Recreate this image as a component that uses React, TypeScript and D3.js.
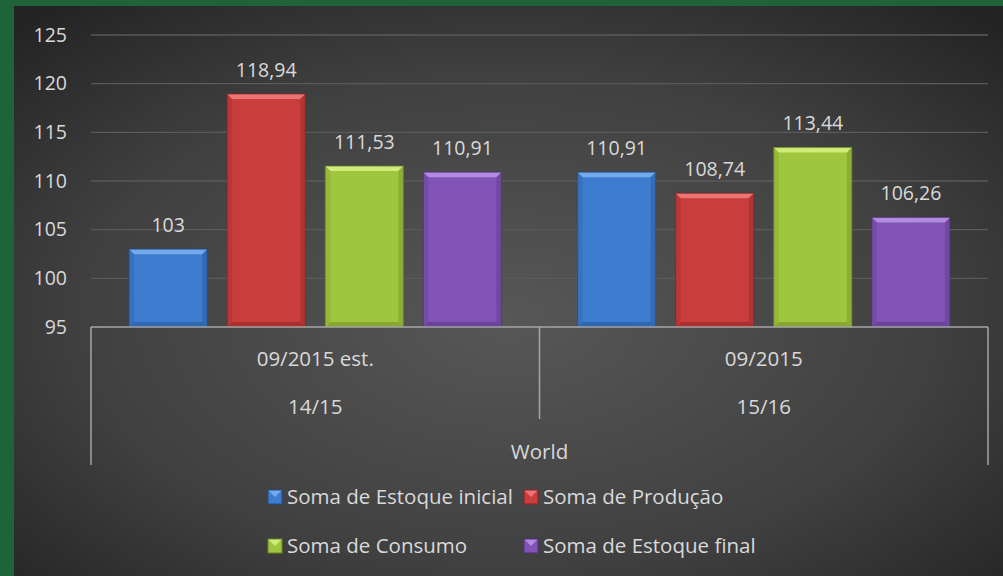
import React from 'react';
import * as d3 from 'd3';

const groups = ['09/2015 est.', '09/2015'];
const years = ['14/15', '15/16'];
const region = 'World';
const series = ['Soma de Estoque inicial', 'Soma de Produção', 'Soma de Consumo', 'Soma de Estoque final'];
const values2014 = [103, 118.94, 111.53, 110.91];
const values2015 = [110.91, 108.74, 113.44, 106.26];
const yTicks = [95, 100, 105, 110, 115, 120, 125];

const colors = [
  { base: '#3d7cce', light: '#74a9ec', dark: '#1f4d8c' },
  { base: '#c93d3d', light: '#ec7474', dark: '#862222' },
  { base: '#a0c53e', light: '#cfeb7a', dark: '#68861f' },
  { base: '#8153b6', light: '#b08be0', dark: '#523177' },
];

const W = 1003;
const H = 576;
const font = '"Open Sans", sans-serif';
const textColor = '#d9d9d9';
const fs = 20.5;

const fmt = (v: number) => String(v).replace('.', ',');

function Bar({ x, y, w, h, c }: { x: number; y: number; w: number; h: number; c: typeof colors[0] }) {
  const b = Math.min(5, h / 2);
  return (
    <g>
      <rect x={x} y={y} width={w} height={h} fill={c.base} />
      {/* soft bevel: light top, darker sides and bottom */}
      <polygon points={`${x},${y} ${x + w},${y} ${x + w - b},${y + b} ${x + b},${y + b}`} fill={c.light} />
      <polygon points={`${x},${y} ${x + b},${y + b} ${x + b},${y + h - b} ${x},${y + h}`} fill={c.dark} opacity={0.2} />
      <polygon points={`${x + w},${y} ${x + w - b},${y + b} ${x + w - b},${y + h - b} ${x + w},${y + h}`} fill={c.dark} opacity={0.35} />
      <polygon points={`${x},${y + h} ${x + b},${y + h - b} ${x + w - b},${y + h - b} ${x + w},${y + h}`} fill={c.dark} opacity={0.45} />
      <rect x={x} y={y} width={w} height={h} fill="none" stroke={c.dark} strokeWidth={1} opacity={0.7} />
    </g>
  );
}

export default function App() {
  const left = 91;
  const right = 988;
  const y = d3.scaleLinear().domain([95, 125]).range([327, 35]);
  const x0 = d3.scaleBand<string>().domain(groups).range([left, right]);
  const x1 = d3
    .scaleBand<string>()
    .domain(series)
    .range([0, x0.bandwidth()])
    .paddingInner(0.204)
    .paddingOuter(0.388);
  const data = [values2014, values2015];
  const axisY = y(95);

  return (
    <svg
      width={W}
      height={H}
      style={{ position: 'absolute', left: 0, top: 0, display: 'block' }}
      fontFamily={font}
    >
      <defs>
        <radialGradient id="bg" cx="0.5" cy="0.55" r="0.72">
          <stop offset="0" stopColor="#575757" />
          <stop offset="0.6" stopColor="#404040" />
          <stop offset="1" stopColor="#232323" />
        </radialGradient>
      </defs>
      <rect x={0} y={0} width={W} height={H} fill="#1e6339" />
      <rect x={14} y={6} width={W - 14} height={H - 6} fill="url(#bg)" />

      {/* gridlines */}
      {yTicks.slice(1).map(t => (
        <line key={t} x1={left} x2={right} y1={y(t)} y2={y(t)} stroke="#5a5a5a" strokeWidth={1.3} />
      ))}
      {/* y tick labels */}
      {yTicks.map(t => (
        <text key={t} x={67} y={y(t)} dy="0.35em" textAnchor="end" fill={textColor} fontSize={fs - 1}>
          {t}
        </text>
      ))}

      {/* bars */}
      {groups.map((g, gi) =>
        series.map((s, si) => {
          const v = data[gi][si];
          const bx = (x0(g) ?? 0) + (x1(s) ?? 0);
          const by = y(v);
          return (
            <g key={g + s}>
              <Bar x={bx} y={by} w={x1.bandwidth()} h={axisY - by} c={colors[si]} />
              <text x={bx + x1.bandwidth() / 2} y={by - 24} dy="0.35em" textAnchor="middle" fill={textColor} fontSize={fs - 1}>
                {fmt(v)}
              </text>
            </g>
          );
        })
      )}

      {/* category axis */}
      <line x1={left} x2={right} y1={axisY} y2={axisY} stroke="#a6a6a6" strokeWidth={1.5} />
      <line x1={left} x2={left} y1={axisY} y2={465} stroke="#a6a6a6" strokeWidth={1.5} />
      <line x1={right} x2={right} y1={axisY} y2={465} stroke="#a6a6a6" strokeWidth={1.5} />
      <line x1={x0(groups[1])} x2={x0(groups[1])} y1={axisY} y2={419} stroke="#a6a6a6" strokeWidth={1.5} />
      {groups.map((g, gi) => (
        <g key={g}>
          <text x={(x0(g) ?? 0) + x0.bandwidth() / 2} y={359} dy="0.35em" textAnchor="middle" fill={textColor} fontSize={fs}>
            {g}
          </text>
          <text x={(x0(g) ?? 0) + x0.bandwidth() / 2} y={407} dy="0.35em" textAnchor="middle" fill={textColor} fontSize={fs}>
            {years[gi]}
          </text>
        </g>
      ))}
      <text x={(left + right) / 2} y={452} dy="0.35em" textAnchor="middle" fill={textColor} fontSize={fs}>
        {region}
      </text>

      {/* legend */}
      {series.map((s, i) => {
        const lx = i % 2 === 0 ? 268 : 524;
        const ly = i < 2 ? 497 : 546;
        const c = colors[i];
        return (
          <g key={s}>
            <rect x={lx} y={ly - 7} width={14} height={14} fill={c.base} />
            <polygon points={`${lx},${ly - 7} ${lx + 14},${ly - 7} ${lx + 7},${ly}`} fill={c.light} />
            <rect x={lx} y={ly - 7} width={14} height={14} fill="none" stroke={c.dark} strokeWidth={1} />
            <text x={lx + 19} y={ly} dy="0.35em" fill={textColor} fontSize={fs}>
              {s}
            </text>
          </g>
        );
      })}
    </svg>
  );
}
